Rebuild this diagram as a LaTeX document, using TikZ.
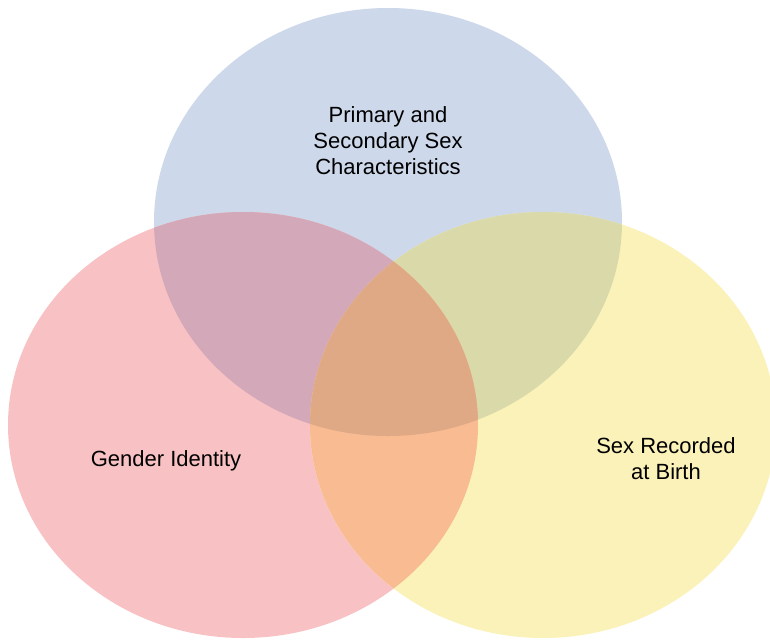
\documentclass[tikz,border=0pt]{standalone}
\usepackage{fontspec}
\setmainfont{Liberation Sans}
\definecolor{cB}{RGB}{205,216,234}
\definecolor{cR}{RGB}{248,194,196}
\definecolor{cY}{RGB}{251,242,185}
\definecolor{cBR}{RGB}{211,168,184}
\definecolor{cBY}{RGB}{217,217,170}
\definecolor{cRY}{RGB}{248,187,146}
\definecolor{cBRY}{RGB}{223,169,133}
\tikzset{
  lbl/.style={align=center, inner sep=0pt, text=black, font=\fontsize{22}{26}\selectfont},
}
\def\blueE{(388,222) ellipse [x radius=234pt, y radius=214pt]}
\def\redE{(243,425) ellipse [x radius=235pt, y radius=213pt]}
\def\yelE{(543,425) ellipse [x radius=233pt, y radius=213pt]}
\begin{document}
\begin{tikzpicture}[x=1pt,y=-1pt]
\useasboundingbox (0,0) rectangle (770,640);
\clip (0,0) rectangle (770,640);
\fill[white] (0,0) rectangle (770,640);
\fill[cB] \blueE;
\fill[cR] \redE;
\fill[cY] \yelE;
\begin{scope}
  \clip \blueE;
  \fill[cBR] \redE;
  \fill[cBY] \yelE;
\end{scope}
\begin{scope}
  \clip \redE;
  \fill[cRY] \yelE;
\end{scope}
\begin{scope}
  \clip \blueE;
  \clip \redE;
  \fill[cBRY] \yelE;
\end{scope}
\node[lbl] (primary) at (388,141) {Primary and\\Secondary Sex\\Characteristics};
\node[lbl] (gender) at (166,461) {Gender Identity};
\node[lbl] (sexrec) at (666,459) {Sex Recorded\\at Birth};
\end{tikzpicture}
\end{document}
